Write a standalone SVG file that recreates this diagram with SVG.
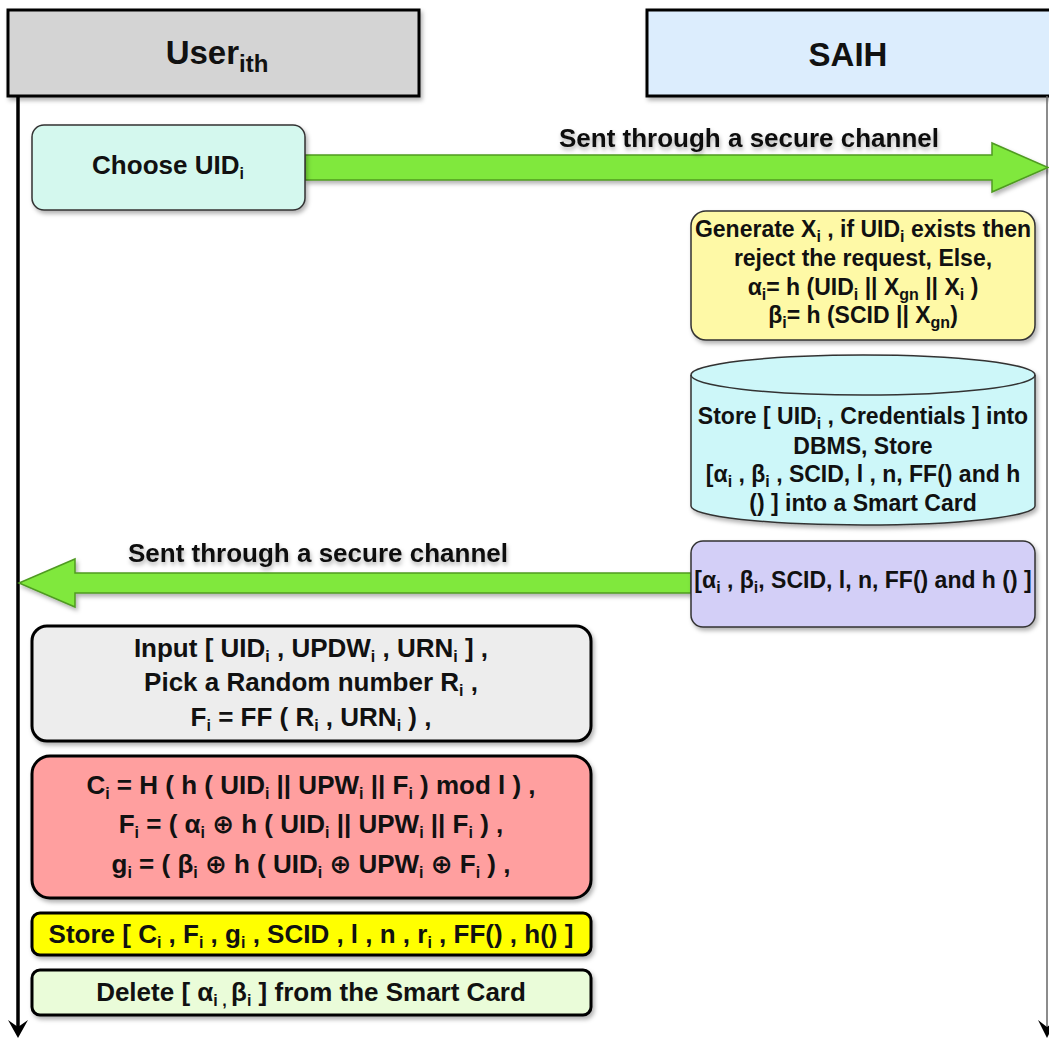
<svg xmlns="http://www.w3.org/2000/svg" width="1049" height="1041" viewBox="0 0 1049 1041">
<defs>
<style>
text{font-family:'Liberation Sans',Arial,'DejaVu Sans',sans-serif;font-weight:bold;fill:#111;text-anchor:middle}
.t{font-size:26px}
.r{font-size:23px}
.s{font-size:16px}
.hd{font-size:33px}
.lbl{font-size:26px;filter:url(#tsh)}
.thin{stroke:#333;stroke-width:1.5}
.thick{stroke:#000;stroke-width:3}
.arrow{fill:#80e83c;stroke:#4f9a22;stroke-width:1.5;filter:url(#sh)}
</style>
<filter id="sh" x="-10%" y="-20%" width="130%" height="150%">
<feDropShadow dx="2" dy="3" stdDeviation="2" flood-color="#000" flood-opacity="0.3"/>
</filter>
<filter id="tsh" x="-5%" y="-30%" width="110%" height="170%">
<feDropShadow dx="1" dy="3" stdDeviation="2" flood-color="#000" flood-opacity="0.3"/>
</filter>
</defs>
<rect width="1049" height="1041" fill="#fff"/>

<g id="header-user">
<rect x="8" y="10" width="411" height="86" fill="#d4d4d4" class="thick" filter="url(#sh)"/>
<text class="hd" x="217" y="64">User<tspan dy="8" font-size="24px">ith</tspan></text>
</g>
<g id="header-saih">
<rect x="647" y="10" width="410" height="86" fill="#dcedfd" class="thick" filter="url(#sh)"/>
<text class="hd" x="848" y="66">SAIH</text>
</g>

<g id="connectors">
<line x1="18" y1="96" x2="18" y2="1030" stroke="#000" stroke-width="3.5"/>
<polygon points="8,1020 18,1038 28,1020 18,1027" fill="#000"/>
<line x1="1047" y1="96" x2="1047" y2="1030" stroke="#666" stroke-width="1.5"/>
<polygon points="1038,1020 1047,1038 1056,1020 1047,1027" fill="#000"/>
<polygon class="arrow" points="305,155 992,155 992,143 1048,167.5 992,192 992,180 305,180"/>
<text class="lbl" x="749" y="147">Sent through a secure channel</text>
<polygon class="arrow" points="691,573 75,573 75,559 19,583 75,607 75,593 691,593"/>
<text class="lbl" x="318" y="562">Sent through a secure channel</text>
</g>

<g id="choose">
<rect x="32" y="125" width="273" height="85" rx="12" fill="#d4f8ee" class="thin" filter="url(#sh)"/>
<text class="t" x="168" y="174">Choose UID<tspan class="s" dy="5">i</tspan></text>
</g>

<g id="generate">
<rect x="691" y="211" width="344" height="129" rx="15" fill="#fef9a6" class="thin" filter="url(#sh)"/>
<text class="r" x="863" y="237">Generate X<tspan class="s" dy="5">i</tspan><tspan dy="-5"> , if UID</tspan><tspan class="s" dy="5">i</tspan><tspan dy="-5"> exists then</tspan></text>
<text class="r" x="863" y="266">reject the request, Else,</text>
<text class="r" x="863" y="295">α<tspan class="s" dy="5">i</tspan><tspan dy="-5">= h (UID</tspan><tspan class="s" dy="5">i</tspan><tspan dy="-5"> || X</tspan><tspan class="s" dy="5">gn</tspan><tspan dy="-5"> || X</tspan><tspan class="s" dy="5">i</tspan><tspan dy="-5"> )</tspan></text>
<text class="r" x="863" y="323">β<tspan class="s" dy="5">i</tspan><tspan dy="-5">= h (SCID || X</tspan><tspan class="s" dy="5">gn</tspan><tspan dy="-5">)</tspan></text>
</g>

<g id="store-db">
<path d="M691,375 A172,20 0 0 1 1035,375 L1035,506 A172,19 0 0 1 691,506 Z" fill="#cdf7f9" class="thin" filter="url(#sh)"/>
<path d="M691,375 A172,20 0 0 0 1035,375" fill="none" class="thin"/>
<text class="r" x="863" y="424">Store [ UID<tspan class="s" dy="5">i</tspan><tspan dy="-5"> , Credentials ] into</tspan></text>
<text class="r" x="863" y="454">DBMS, Store</text>
<text class="r" x="863" y="482">[α<tspan class="s" dy="5">i</tspan><tspan dy="-5"> , β</tspan><tspan class="s" dy="5">i</tspan><tspan dy="-5"> , SCID, l , n, FF() and h</tspan></text>
<text class="r" x="863" y="511">() ] into a Smart Card</text>
</g>

<g id="send-params">
<rect x="691" y="541" width="344" height="86" rx="12" fill="#d3cff7" class="thin" filter="url(#sh)"/>
<text class="r" x="863" y="588">[α<tspan class="s" dy="5">i</tspan><tspan dy="-5"> , β</tspan><tspan class="s" dy="5">i</tspan><tspan dy="-5">, SCID, l, n, FF() and h () ]</tspan></text>
</g>

<g id="input">
<rect x="32" y="626" width="559" height="115" rx="15" fill="#ededed" class="thick" filter="url(#sh)"/>
<text class="t" x="311" y="657">Input [ UID<tspan class="s" dy="5">i</tspan><tspan dy="-5"> , UPDW</tspan><tspan class="s" dy="5">i</tspan><tspan dy="-5"> , URN</tspan><tspan class="s" dy="5">i</tspan><tspan dy="-5"> ] ,</tspan></text>
<text class="t" x="311" y="691">Pick a Random number R<tspan class="s" dy="5">i</tspan><tspan dy="-5"> ,</tspan></text>
<text class="t" x="311" y="726">F<tspan class="s" dy="5">i</tspan><tspan dy="-5"> = FF ( R</tspan><tspan class="s" dy="5">i</tspan><tspan dy="-5"> , URN</tspan><tspan class="s" dy="5">i</tspan><tspan dy="-5"> ) ,</tspan></text>
</g>

<g id="compute">
<rect x="32" y="756" width="559" height="142" rx="18" fill="#ff9f9f" class="thick" filter="url(#sh)"/>
<text class="t" x="311" y="794">C<tspan class="s" dy="5">i</tspan><tspan dy="-5"> = H ( h ( UID</tspan><tspan class="s" dy="5">i</tspan><tspan dy="-5"> || UPW</tspan><tspan class="s" dy="5">i</tspan><tspan dy="-5"> || F</tspan><tspan class="s" dy="5">i</tspan><tspan dy="-5"> ) mod l ) ,</tspan></text>
<text class="t" x="311" y="833">F<tspan class="s" dy="5">i</tspan><tspan dy="-5"> = ( α</tspan><tspan class="s" dy="5">i</tspan><tspan dy="-5"> ⊕ h ( UID</tspan><tspan class="s" dy="5">i</tspan><tspan dy="-5"> || UPW</tspan><tspan class="s" dy="5">i</tspan><tspan dy="-5"> || F</tspan><tspan class="s" dy="5">i</tspan><tspan dy="-5"> ) ,</tspan></text>
<text class="t" x="311" y="873">g<tspan class="s" dy="5">i</tspan><tspan dy="-5"> = ( β</tspan><tspan class="s" dy="5">i</tspan><tspan dy="-5"> ⊕ h ( UID</tspan><tspan class="s" dy="5">i</tspan><tspan dy="-5"> ⊕ UPW</tspan><tspan class="s" dy="5">i</tspan><tspan dy="-5"> ⊕ F</tspan><tspan class="s" dy="5">i</tspan><tspan dy="-5"> ) ,</tspan></text>
</g>

<g id="store-card">
<rect x="32" y="913" width="559" height="42" rx="8" fill="#ffff00" class="thick" filter="url(#sh)"/>
<text class="t" x="311" y="943">Store [ C<tspan class="s" dy="5">i</tspan><tspan dy="-5"> , F</tspan><tspan class="s" dy="5">i</tspan><tspan dy="-5"> , g</tspan><tspan class="s" dy="5">i</tspan><tspan dy="-5"> , SCID , l , n , r</tspan><tspan class="s" dy="5">i</tspan><tspan dy="-5"> , FF() , h() ]</tspan></text>
</g>

<g id="delete">
<rect x="32" y="970" width="559" height="45" rx="8" fill="#eafcd9" class="thick" filter="url(#sh)"/>
<text class="t" x="311" y="1001">Delete [ α<tspan class="s" dy="5">i , </tspan><tspan dy="-5">β</tspan><tspan class="s" dy="5">i</tspan><tspan dy="-5"> ] from the Smart Card</tspan></text>
</g>
</svg>
